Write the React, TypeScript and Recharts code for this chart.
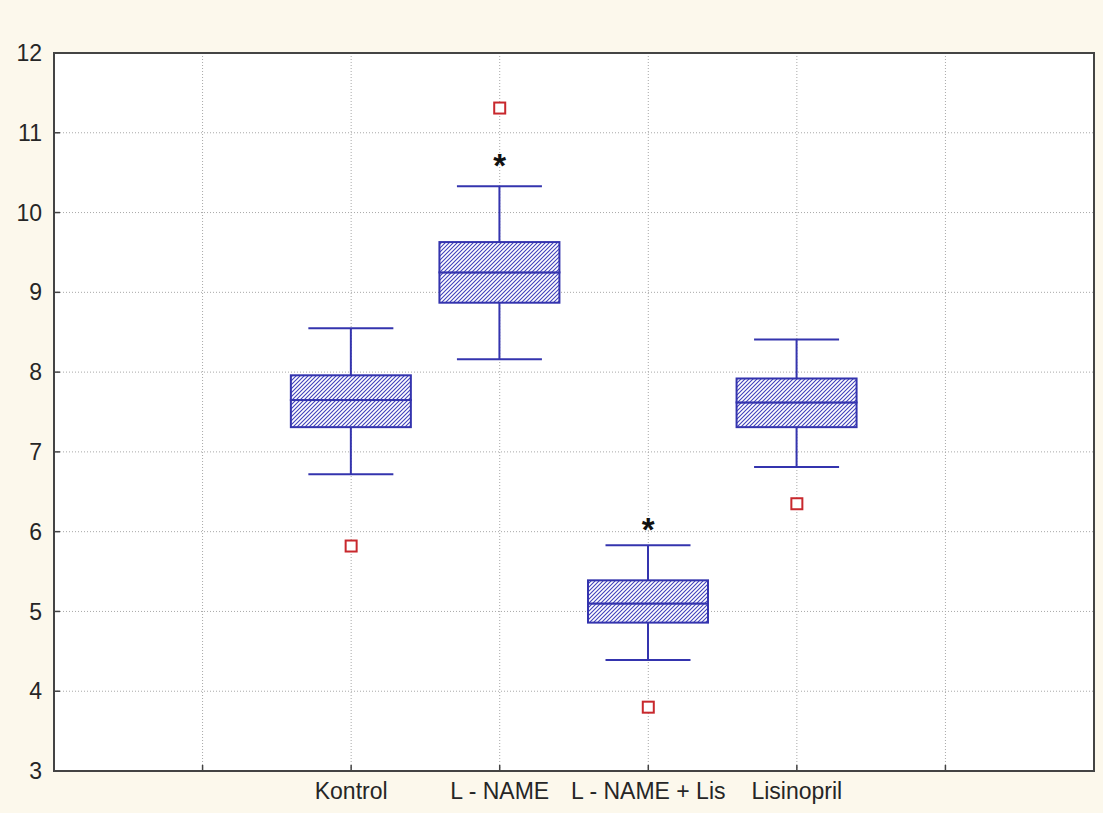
import React from "react";
import {
  ComposedChart,
  Bar,
  Scatter,
  XAxis,
  YAxis,
  CartesianGrid,
  ReferenceArea,
} from "recharts";

const categories = ["Kontrol", "L - NAME", "L - NAME + Lis", "Lisinopril"];
const positions = [2, 3, 4, 5];
const whiskerLow = [6.72, 8.16, 4.39, 6.81];
const q1 = [7.31, 8.87, 4.86, 7.31];
const median = [7.65, 9.25, 5.1, 7.62];
const q3 = [7.96, 9.63, 5.39, 7.92];
const whiskerHigh = [8.55, 10.33, 5.83, 8.41];
const outliers = [5.82, 11.31, 3.8, 6.35];
const significance: (number | null)[] = [null, 10.62, 6.06, null];
const xTicks = [1, 2, 3, 4, 5, 6];
const yTicks = [3, 4, 5, 6, 7, 8, 9, 10, 11, 12];

const BLUE = "#3434ae";
const RED = "#c8282d";
const FONT = "'Liberation Sans', Arial, sans-serif";

const boxData = positions.map((x, i) => ({
  x,
  name: categories[i],
  base: whiskerLow[i],
  lowW: q1[i] - whiskerLow[i],
  boxLo: median[i] - q1[i],
  boxHi: q3[i] - median[i],
  highW: whiskerHigh[i] - q3[i],
}));

const outlierData = positions.map((x, i) => ({ x, y: outliers[i] }));
const starData = positions
  .map((x, i) => ({ x, y: significance[i] }))
  .filter((d) => d.y !== null);

const labelFor = (v: number) => {
  const idx = positions.indexOf(v);
  return idx >= 0 ? categories[idx] : "";
};

const CAP = 42.5;

const EmptyShape = () => <g />;

const LowWhisker = (p: any) => {
  const cx = p.x + p.width / 2;
  const bottom = p.y + p.height;
  return (
    <g>
      <line x1={cx} x2={cx} y1={p.y} y2={bottom} stroke={BLUE} strokeWidth={2} />
      <line x1={cx - CAP} x2={cx + CAP} y1={bottom} y2={bottom} stroke={BLUE} strokeWidth={2} />
    </g>
  );
};

const HighWhisker = (p: any) => {
  const cx = p.x + p.width / 2;
  const bottom = p.y + p.height;
  return (
    <g>
      <line x1={cx} x2={cx} y1={p.y} y2={bottom} stroke={BLUE} strokeWidth={2} />
      <line x1={cx - CAP} x2={cx + CAP} y1={p.y} y2={p.y} stroke={BLUE} strokeWidth={2} />
    </g>
  );
};

const BoxShape = (p: any) => (
  <rect
    x={p.x}
    y={p.y}
    width={p.width}
    height={p.height}
    fill="url(#hatch)"
    stroke={BLUE}
    strokeWidth={2}
  />
);

const OutlierShape = (p: any) => (
  <rect
    x={p.cx - 5.5}
    y={p.cy - 5.5}
    width={11}
    height={11}
    fill="#ffffff"
    stroke={RED}
    strokeWidth={2}
  />
);

const StarShape = (p: any) => (
  <text
    x={p.cx}
    y={p.cy + 14}
    textAnchor="middle"
    fontFamily={FONT}
    fontWeight="bold"
    fontSize={33}
    fill="#111"
  >
    *
  </text>
);

export default function App() {
  return (
    <div
      style={{
        position: "absolute",
        left: 0,
        top: 0,
        width: 1103,
        height: 813,
        background: "#fcf8ec",
      }}
    >
      <ComposedChart
        width={1103}
        height={813}
        data={boxData}
        margin={{ top: 53, right: 9, bottom: 0, left: 0 }}
      >
        <defs>
          <pattern id="hatch" patternUnits="userSpaceOnUse" width={4} height={4}>
            <rect width={4} height={4} fill="#ffffff" />
            <path
              d="M-1,1 l2,-2 M0,4 l4,-4 M3,5 l2,-2"
              stroke="#4040bb"
              strokeWidth={1.1}
            />
          </pattern>
        </defs>
        <CartesianGrid
          fill="#ffffff"
          stroke="#a8a8a8"
          strokeDasharray="1 2"
          horizontal
          vertical
        />
        <XAxis
          dataKey="x"
          type="number"
          domain={[0, 7]}
          ticks={xTicks}
          tickFormatter={labelFor}
          height={42}
          axisLine={{ stroke: "#444", strokeWidth: 2 }}
          tickLine={{ stroke: "#444", strokeWidth: 1.5 }}
          tickSize={-6}
          tickMargin={18}
          tick={{ fill: "#262626", fontSize: 23, fontFamily: FONT }}
          interval={0}
        />
        <YAxis
          type="number"
          domain={[3, 12]}
          ticks={yTicks}
          allowDataOverflow
          width={54}
          axisLine={{ stroke: "#444", strokeWidth: 2 }}
          tickLine={{ stroke: "#444", strokeWidth: 1.5 }}
          tickSize={-6}
          tickMargin={18}
          tick={{ fill: "#262626", fontSize: 23, fontFamily: FONT }}
          interval={0}
        />
        <Bar dataKey="base" stackId="b" barSize={120} shape={<EmptyShape />} isAnimationActive={false} />
        <Bar dataKey="lowW" stackId="b" barSize={120} shape={<LowWhisker />} isAnimationActive={false} />
        <Bar dataKey="boxLo" stackId="b" barSize={120} shape={<BoxShape />} isAnimationActive={false} />
        <Bar dataKey="boxHi" stackId="b" barSize={120} shape={<BoxShape />} isAnimationActive={false} />
        <Bar dataKey="highW" stackId="b" barSize={120} shape={<HighWhisker />} isAnimationActive={false} />
        <Scatter data={outlierData} dataKey="y" shape={<OutlierShape />} isAnimationActive={false} />
        <Scatter data={starData} dataKey="y" shape={<StarShape />} isAnimationActive={false} />
        <ReferenceArea
          x1={0}
          x2={7}
          y1={3}
          y2={12}
          fill="none"
          fillOpacity={0}
          stroke="#444"
          strokeWidth={2}
        />
      </ComposedChart>
    </div>
  );
}
